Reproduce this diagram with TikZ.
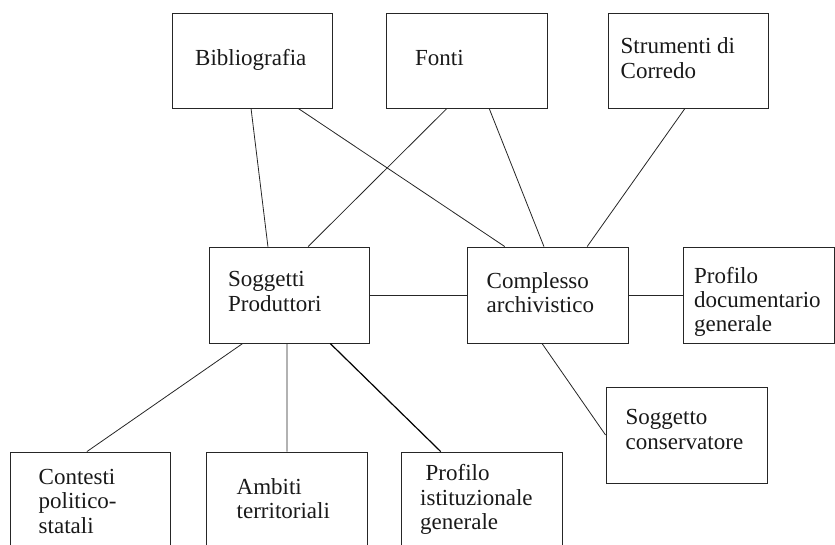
\documentclass[tikz,border=0pt]{standalone}
\usepackage{fontspec}
\setmainfont{Liberation Serif}
\usetikzlibrary{calc}
\begin{document}
\begin{tikzpicture}[x=1pt,y=-1pt,
  box/.style={draw=black!85, line width=0.9pt, inner sep=0pt, rectangle},
  lbl/.style={anchor=base west, inner sep=0pt, font=\fontsize{23}{24.5}\selectfont, text=black!90},
  conn/.style={line width=0.8pt, draw=black!85}]
\useasboundingbox (0,0) rectangle (835,544);
\clip (0,0) rectangle (835,544);
% boxes
\node[box, minimum width=160pt, minimum height=95pt] (bib) at (252,60.5) {};
\node[box, minimum width=161pt, minimum height=95pt] (fon) at (466.5,60.5) {};
\node[box, minimum width=160pt, minimum height=95pt] (str) at (688,60.5) {};
\node[box, minimum width=160pt, minimum height=96pt] (sog) at (289,295) {};
\node[box, minimum width=161pt, minimum height=96pt] (com) at (547.5,295) {};
\node[box, minimum width=151pt, minimum height=96pt] (pdoc) at (758.5,295) {};
\node[box, minimum width=161pt, minimum height=96pt] (scon) at (686.5,435) {};
\node[box, minimum width=160pt, minimum height=108pt] (cont) at (90,506) {};
\node[box, minimum width=161pt, minimum height=108pt] (amb) at (286.5,506) {};
\node[box, minimum width=161pt, minimum height=108pt] (pist) at (481.5,506) {};
% labels
\node[lbl] (bibt) at (195,65) {Bibliografia};
\node[lbl] (font) at (415,65) {Fonti};
\node[lbl] (strt1) at (620.5,53.5) {Strumenti di};
\node[lbl] (strt2) at (620.5,78) {Corredo};
\node[lbl] (sogt1) at (228,286.5) {Soggetti};
\node[lbl] (sogt2) at (228,311) {Produttori};
\node[lbl] (comt1) at (486.5,288) {Complesso};
\node[lbl] (comt2) at (486.5,312.5) {archivistico};
\node[lbl] (pdoct1) at (694,283) {Profilo};
\node[lbl] (pdoct2) at (694,307) {documentario};
\node[lbl] (pdoct3) at (694,331) {generale};
\node[lbl] (scont1) at (625.5,424.5) {Soggetto};
\node[lbl] (scont2) at (625.5,449) {conservatore};
\node[lbl] (contt1) at (38.5,484) {Contesti};
\node[lbl] (contt2) at (38.5,508.5) {politico-};
\node[lbl] (contt3) at (38.5,533) {statali};
\node[lbl] (ambt1) at (236.5,494) {Ambiti};
\node[lbl] (ambt2) at (236.5,518.5) {territoriali};
\node[lbl] (pistt1) at (425.5,480) {Profilo};
\node[lbl] (pistt2) at (420,505) {istituzionale};
\node[lbl] (pistt3) at (420,529.5) {generale};
% connectors
\draw[conn] ($(bib.south west)!0.494!(bib.south east)$) -- ($(sog.north west)!0.369!(sog.north east)$);
\draw[conn] ($(bib.south west)!0.7875!(bib.south east)$) -- ($(com.north west)!0.236!(com.north east)$);
\draw[conn] ($(fon.south west)!0.379!(fon.south east)$) -- ($(sog.north west)!0.619!(sog.north east)$);
\draw[conn] ($(fon.south west)!0.64!(fon.south east)$) -- ($(com.north west)!0.478!(com.north east)$);
\draw[conn] ($(str.south west)!0.481!(str.south east)$) -- ($(com.north west)!0.745!(com.north east)$);
\draw[conn] (sog.east) -- (com.west);
\draw[conn] (com.east) -- (pdoc.west);
\draw[conn] ($(sog.south west)!0.2125!(sog.south east)$) -- ($(cont.north west)!0.481!(cont.north east)$);
\draw[conn] ($(sog.south west)!0.4875!(sog.south east)$) -- ($(amb.north west)!0.503!(amb.north east)$);
\draw[conn, line width=1.2pt, draw=black] ($(sog.south west)!0.756!(sog.south east)$) -- ($(pist.north west)!0.248!(pist.north east)$);
\draw[conn] ($(com.south west)!0.466!(com.south east)$) -- (scon.west);
\end{tikzpicture}
\end{document}
